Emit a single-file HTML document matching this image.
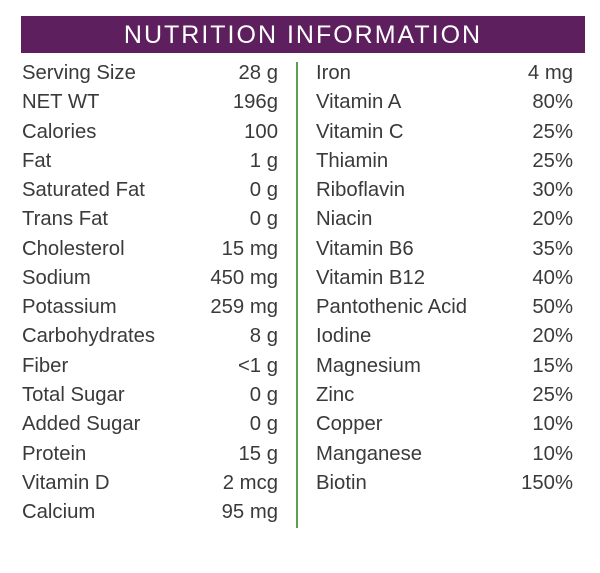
<!DOCTYPE html>
<html><head><meta charset="utf-8"><style>
body{margin:0;width:600px;height:573px;background:#fff;position:relative;overflow:hidden;font-family:"Liberation Sans",sans-serif;color:#3a3a3a}
.hdr{position:absolute;left:21px;top:16px;width:564px;height:37px;background:#5e1f5e;color:#fff;font-size:25px;letter-spacing:2px;text-align:center;line-height:38px}
.div{position:absolute;left:296px;top:62px;width:2px;height:466px;background:#5f9e4c}
.row{position:absolute;height:29px;line-height:29px;font-size:20.3px}
.row span.v{position:absolute;right:0}
.L{left:22px;width:256px}
.R{left:316px;width:257px}
</style></head><body>
<div class="hdr">NUTRITION INFORMATION</div>
<div class="div"></div>
<div id="rows"></div>
<script>
const left=[["Serving Size","28 g"],["NET WT","196g"],["Calories","100"],["Fat","1 g"],["Saturated Fat","0 g"],["Trans Fat","0 g"],["Cholesterol","15 mg"],["Sodium","450 mg"],["Potassium","259 mg"],["Carbohydrates","8 g"],["Fiber","<1 g"],["Total Sugar","0 g"],["Added Sugar","0 g"],["Protein","15 g"],["Vitamin D","2 mcg"],["Calcium","95 mg"]];
const right=[["Iron","4 mg"],["Vitamin A","80%"],["Vitamin C","25%"],["Thiamin","25%"],["Riboflavin","30%"],["Niacin","20%"],["Vitamin B6","35%"],["Vitamin B12","40%"],["Pantothenic Acid","50%"],["Iodine","20%"],["Magnesium","15%"],["Zinc","25%"],["Copper","10%"],["Manganese","10%"],["Biotin","150%"]];
const c=document.getElementById('rows');
function add(arr,cls){arr.forEach((r,i)=>{const d=document.createElement('div');d.className='row '+cls;d.style.top=(59+i*29.27)+'px';


const a=document.createElement('span');a.textContent=r[0];


const b=document.createElement('span');b.className='v';b.textContent=r[1];


d.appendChild(a);d.appendChild(b);c.appendChild(d);});}
add(left,'L');add(right,'R');
</script>
</body></html>
